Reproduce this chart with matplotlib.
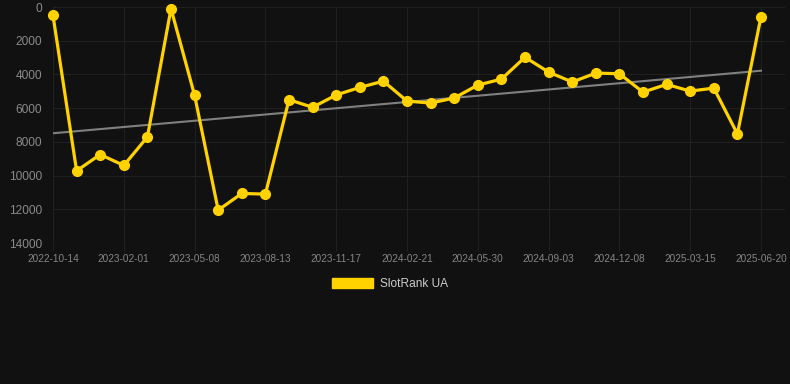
import matplotlib
matplotlib.use("Agg")
import numpy as np
import matplotlib.pyplot as plt
from matplotlib.patches import Patch

# Rank values (lower is better), one every few weeks
ranks = [500, 9720, 8750, 9400, 7710, 100, 5240, 12050, 11060, 11100,
         5500, 5950, 5220, 4770, 4400, 5580, 5700, 5400, 4630, 4280,
         2980, 3860, 4450, 3920, 3960, 5050, 4590, 4990, 4810, 7530, 570]
tick_labels = ["2022-10-14", "2023-02-01", "2023-05-08", "2023-08-13",
               "2023-11-17", "2024-02-21", "2024-05-30", "2024-09-03",
               "2024-12-08", "2025-03-15", "2025-06-20"]
trend_ends = [7490, 3780]
series_name = "SlotRank UA"

bg = "#111111"
gold = "#ffd200"
plt.rcParams['font.family'] = ['Liberation Sans', 'DejaVu Sans']

fig = plt.figure(figsize=(7.9, 3.84), dpi=100, facecolor=bg)
ax = fig.add_axes([53/790, 1 - 243/384, (785-53)/790, (243-7)/384])
ax.set_facecolor(bg)

x = np.arange(len(ranks))
ax.plot([x[0], x[-1]], trend_ends, color="#808080", lw=1.5, zorder=2)
ax.plot(x, ranks, color=gold, lw=2.3, marker="o", ms=7, zorder=3,
        clip_on=False)

ax.set_ylim(14000, 0)
ax.set_yticks(np.arange(0, 14001, 2000))
ax.set_xlim(0, 30 * 732 / 708)
ax.set_xticks(np.arange(0, len(ranks), 3))
ax.set_xticklabels(tick_labels)

ax.grid(True, color="#202020", lw=0.8)
ax.set_axisbelow(True)
for s in ax.spines.values():
    s.set_visible(False)
ax.tick_params(axis="y", colors="#8a8a8a", labelsize=8.6, length=0, pad=8)
ax.tick_params(axis="x", colors="#858585", labelsize=7.2, length=6,
               color="#202020", pad=2)

# legend drawn as a filled box like the original
leg = fig.legend(handles=[Patch(facecolor=gold, edgecolor=gold, label=series_name)],
                 loc="center", bbox_to_anchor=(390/790, 1 - 284/384),
                 frameon=False, fontsize=8.6, handlelength=3.4,
                 handleheight=1.0, handletextpad=0.6)
for t in leg.get_texts():
    t.set_color("#cccccc")

fig.savefig("out.png", dpi=100, facecolor=bg)
